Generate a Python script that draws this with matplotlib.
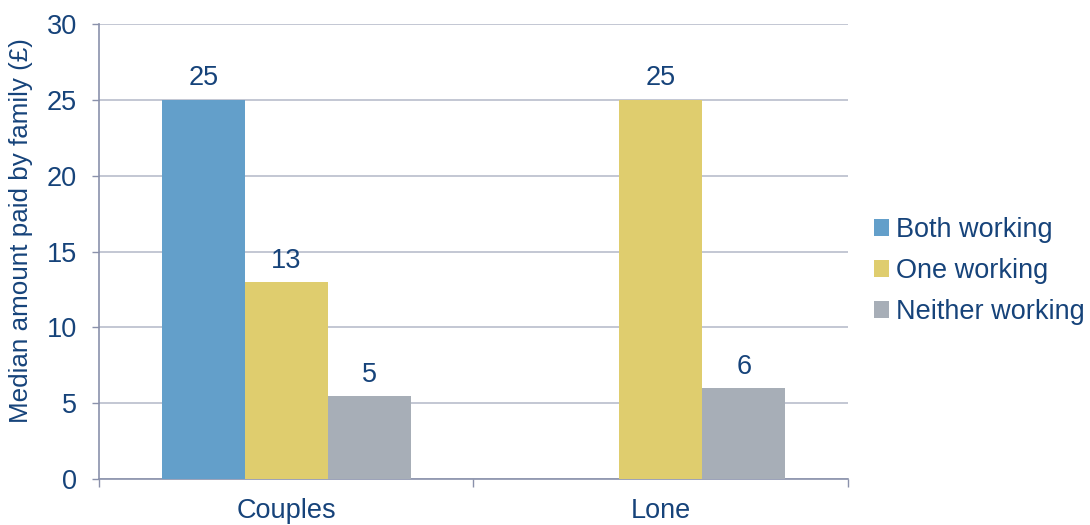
import matplotlib
matplotlib.use("Agg")
import matplotlib.pyplot as plt
import numpy as np
from matplotlib.patches import Patch

plt.rcParams['font.family'] = ['Liberation Sans', 'DejaVu Sans']

categories = ["Couples", "Lone"]
series_names = ["Both working", "One working", "Neither working"]
both_working = [25, np.nan]
one_working = [13, 25]
neither_working = [5.45, 6.0]
series_values = [both_working, one_working, neither_working]
series_colors = ["#639fca", "#dfcd6e", "#a7aeb7"]
y_ticks = [0, 5, 10, 15, 20, 25, 30]

text_color = "#16437a"
axis_color = "#8a91ab"
grid_color = "#b9bdcc"
fs = 19.5

fig = plt.figure(figsize=(10.9, 5.25), dpi=100)
ax = fig.add_axes([0.0908, 0.0876, 0.6872, 0.8667])

x = np.arange(len(categories))
width = 0.2216
offsets = [-width, 0, width]
for vals, off, col in zip(series_values, offsets, series_colors):
    ax.bar(x + off, vals, width, color=col, zorder=3)
    for xi, v in zip(x + off, vals):
        if np.isnan(v):
            continue
        ax.annotate(f"{v:.0f}", (xi, v), xytext=(0, 6), textcoords="offset points",
                    ha="center", va="bottom", fontsize=fs, color=text_color)

ax.set_xlim(-0.5, 1.5)
ax.set_ylim(0, 30)
ax.set_yticks(y_ticks)
ax.yaxis.grid(True, color=grid_color, linewidth=1.2, zorder=0)
ax.set_xticks(x)
ax.set_xticklabels(categories)
ax.set_xticks([-0.5, 0.5, 1.5], minor=True)
ax.tick_params(axis="x", which="major", length=0, pad=14, labelsize=fs, labelcolor=text_color)
ax.tick_params(axis="x", which="minor", length=6, color=axis_color, width=1)
ax.tick_params(axis="y", length=5, color=axis_color, width=1, pad=11,
               labelsize=fs, labelcolor=text_color)
for s in ["top", "right"]:
    ax.spines[s].set_visible(False)
for s in ["left", "bottom"]:
    ax.spines[s].set_color(axis_color)
    ax.spines[s].set_linewidth(1.2)
ax.set_ylabel("Median amount paid by family (£)", fontsize=18.7, color=text_color)
ax.yaxis.set_label_coords(-0.088, 0.545)

handles = [Patch(facecolor=c, edgecolor="none") for c in series_colors]
fig.legend(handles, series_names, loc="center left", bbox_to_anchor=(0.802, 0.484),
           frameon=False, fontsize=fs, labelcolor=text_color, handlelength=0.55,
           handleheight=0.6, handletextpad=0.25, labelspacing=0.56, borderaxespad=0,
           borderpad=0)

fig.savefig("out.png", dpi=100)
